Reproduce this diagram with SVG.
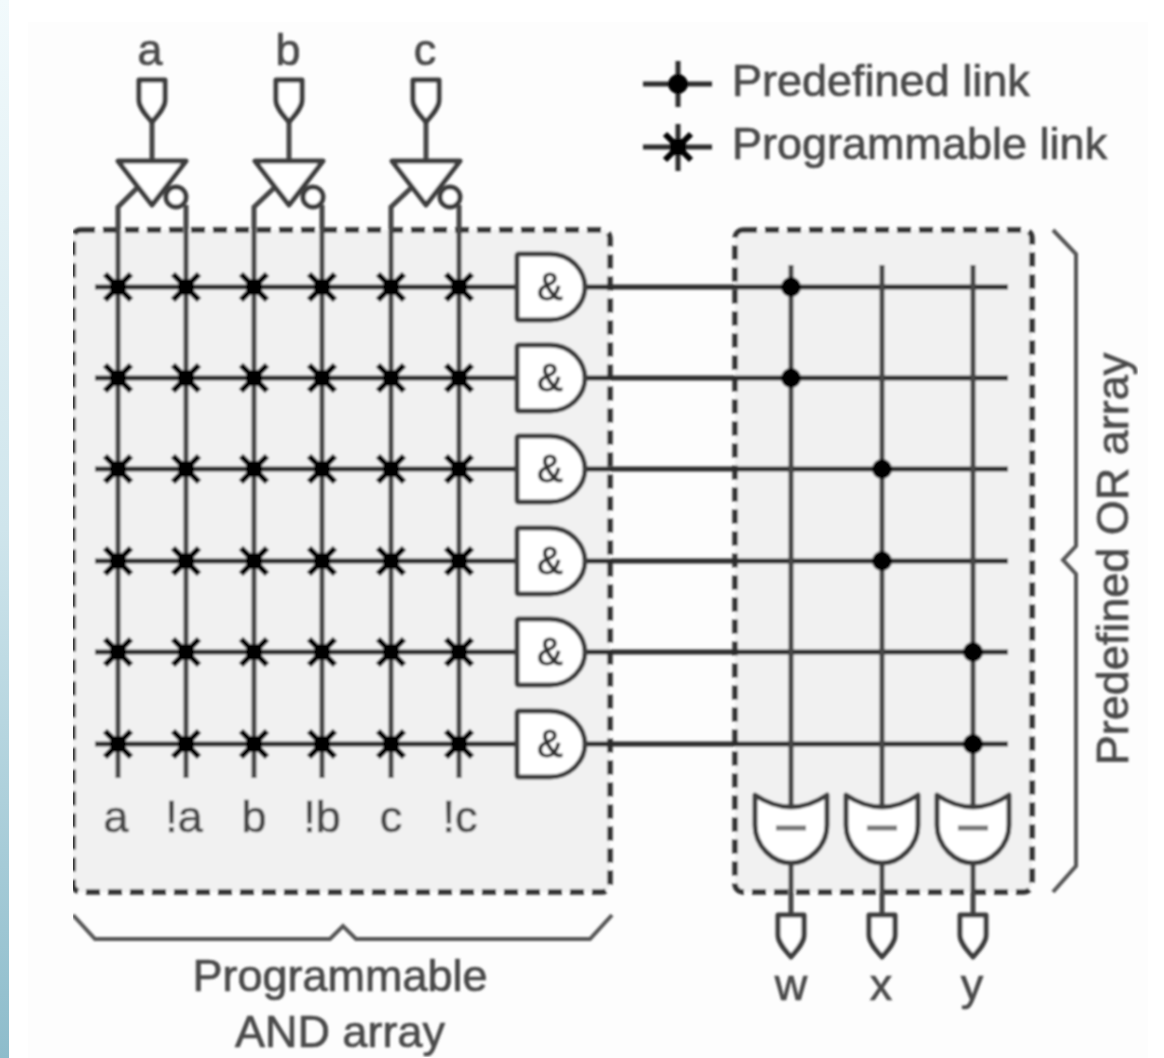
<svg xmlns="http://www.w3.org/2000/svg" width="1164" height="1058" viewBox="0 0 1164 1058">
<style>
text{font-family:"Liberation Sans",Arial,sans-serif;fill:#4a4a4a;stroke:#4a4a4a;stroke-width:.7px;font-size:45px;text-anchor:middle}
.l{text-anchor:start}
.amp{font-size:38px;fill:#333;stroke:#333;stroke-width:1px}
.h{fill:none;stroke:#2c2c2c;stroke-width:5}
.v{fill:none;stroke:#444;stroke-width:5}
.t{fill:none;stroke:#555;stroke-width:4}
.b{fill:#f1f1f1;stroke:#333;stroke-width:5.5;stroke-dasharray:14 8}
.g{fill:#fff;stroke:#3c3c3c;stroke-width:5;stroke-linejoin:round}
.s{fill:none;stroke:#000;stroke-width:6}
</style>
<defs>
<linearGradient id="edge" x1="0" y1="0" x2="0" y2="1"><stop offset="0" stop-color="#f2fafc"/><stop offset=".5" stop-color="#cfe5ec"/><stop offset="1" stop-color="#8dbccb"/></linearGradient>
<filter id="soft" x="0" y="0" width="100%" height="100%"><feGaussianBlur stdDeviation="1"/></filter>
<g id="star"><path class="s" d="M-13-13 13 13M13-13-13 13"/><rect x="-8" y="-8" width="16" height="16" fill="#000"/></g>
<g id="dot"><circle r="10" fill="#000"/></g>
<path id="and" class="g" d="M519-33H550C572-33 585-15 585 0S572 33 550 33H519Q517 33 517 31V-31Q517-33 519-33Z"/>
<g id="or"><path class="g" d="M-36-33Q-18-21 0-21T36-33V-3C36 18 18 35 0 35S-36 18-36-3Z"/><path d="M-15 0H15" stroke="#777" stroke-width="5"/></g>
<path id="pin" class="g" d="M-13 0H13V20C13 28 5 36 0 42C-5 36-13 28-13 20Z"/>
<g id="inv"><path class="g" d="M-34 0H34L0 44Z"/><circle class="g" cx="24" cy="36" r="10"/></g>
</defs>
<rect width="1164" height="1058" fill="#fff"/>
<rect x="28" y="22" width="1120" height="1036" fill="#fdfdfd"/>
<rect width="9" height="1058" fill="url(#edge)"/>
<g filter="url(#soft)">
<g id="and-array-box"><rect class="b" x="73" y="230" width="537" height="662" rx="8"/></g>
<g id="or-array-box"><rect class="b" x="735" y="230" width="297" height="662" rx="8"/></g>
<g id="connectors">
<path class="v" d="M152 122V161M289 122V161M426 122V161"/>
<path class="v" d="M137 188 118 207V778M186 205V778M274 188 254 207V778M322 205V778M411 188 391 207V778M459 205V778"/>
<path class="h" d="M95 287H517M95 378H517M95 469H517M95 561H517M95 652H517M95 744H517"/>
<path class="h" d="M585 287H1008M585 378H1008M585 469H1008M585 561H1008M585 652H1008M585 744H1008"/>
<path class="v" d="M791 265V807M882 265V807M973 265V807M791 863V915M882 863V915M973 863V915"/>
<path class="t" d="M73 915 95 939H330L343 926 356 939H590L612 915"/>
<path class="t" d="M1053 230 1076 254V546L1063 560 1076 574V866L1053 892"/>
</g>
<g id="legend-predefined"><path class="h" d="M643 84H712M678 61V107"/><use href="#dot" x="678" y="84"/><text class="l" x="732" y="96">Predefined link</text></g>
<g id="legend-programmable"><path class="h" d="M643 147H712M678 124V171"/><use href="#star" x="678" y="147"/><text class="l" x="732" y="159">Programmable link</text></g>
<g id="input-a"><use href="#pin" x="152" y="80"/><use href="#inv" x="152" y="161"/><text x="150" y="65">a</text></g>
<g id="input-b"><use href="#pin" x="289" y="80"/><use href="#inv" x="289" y="161"/><text x="288" y="65">b</text></g>
<g id="input-c"><use href="#pin" x="426" y="80"/><use href="#inv" x="426" y="161"/><text x="425" y="65">c</text></g>
<g id="links-programmable">
<use href="#star" x="118" y="287"/><use href="#star" x="186" y="287"/><use href="#star" x="254" y="287"/><use href="#star" x="322" y="287"/><use href="#star" x="391" y="287"/><use href="#star" x="459" y="287"/>
<use href="#star" x="118" y="378"/><use href="#star" x="186" y="378"/><use href="#star" x="254" y="378"/><use href="#star" x="322" y="378"/><use href="#star" x="391" y="378"/><use href="#star" x="459" y="378"/>
<use href="#star" x="118" y="469"/><use href="#star" x="186" y="469"/><use href="#star" x="254" y="469"/><use href="#star" x="322" y="469"/><use href="#star" x="391" y="469"/><use href="#star" x="459" y="469"/>
<use href="#star" x="118" y="561"/><use href="#star" x="186" y="561"/><use href="#star" x="254" y="561"/><use href="#star" x="322" y="561"/><use href="#star" x="391" y="561"/><use href="#star" x="459" y="561"/>
<use href="#star" x="118" y="652"/><use href="#star" x="186" y="652"/><use href="#star" x="254" y="652"/><use href="#star" x="322" y="652"/><use href="#star" x="391" y="652"/><use href="#star" x="459" y="652"/>
<use href="#star" x="118" y="744"/><use href="#star" x="186" y="744"/><use href="#star" x="254" y="744"/><use href="#star" x="322" y="744"/><use href="#star" x="391" y="744"/><use href="#star" x="459" y="744"/>
</g>
<g id="links-predefined">
<use href="#dot" x="791" y="287"/><use href="#dot" x="791" y="378"/><use href="#dot" x="882" y="469"/><use href="#dot" x="882" y="561"/><use href="#dot" x="973" y="652"/><use href="#dot" x="973" y="744"/>
</g>
<g id="and-gates">
<g id="and1"><use href="#and" y="287"/><text class="amp" x="550" y="300">&amp;</text></g>
<g id="and2"><use href="#and" y="378"/><text class="amp" x="550" y="391">&amp;</text></g>
<g id="and3"><use href="#and" y="469"/><text class="amp" x="550" y="482">&amp;</text></g>
<g id="and4"><use href="#and" y="561"/><text class="amp" x="550" y="574">&amp;</text></g>
<g id="and5"><use href="#and" y="652"/><text class="amp" x="550" y="665">&amp;</text></g>
<g id="and6"><use href="#and" y="744"/><text class="amp" x="550" y="757">&amp;</text></g>
</g>
<g id="output-w"><use href="#or" x="791" y="828"/><use href="#pin" x="791" y="915"/><text x="791" y="1000">w</text></g>
<g id="output-x"><use href="#or" x="882" y="828"/><use href="#pin" x="882" y="915"/><text x="881" y="1000">x</text></g>
<g id="output-y"><use href="#or" x="973" y="828"/><use href="#pin" x="973" y="915"/><text x="972" y="1000">y</text></g>
<g id="labels">
<text x="116" y="832">a</text><text x="184" y="832">!a</text><text x="254" y="832">b</text><text x="322" y="832">!b</text><text x="391" y="832">c</text><text x="460" y="832">!c</text>
<text x="340" y="991">Programmable</text><text x="340" y="1047">AND array</text>
<text transform="translate(1128 559) rotate(-90)">Predefined OR array</text>
</g>
</g>
</svg>
